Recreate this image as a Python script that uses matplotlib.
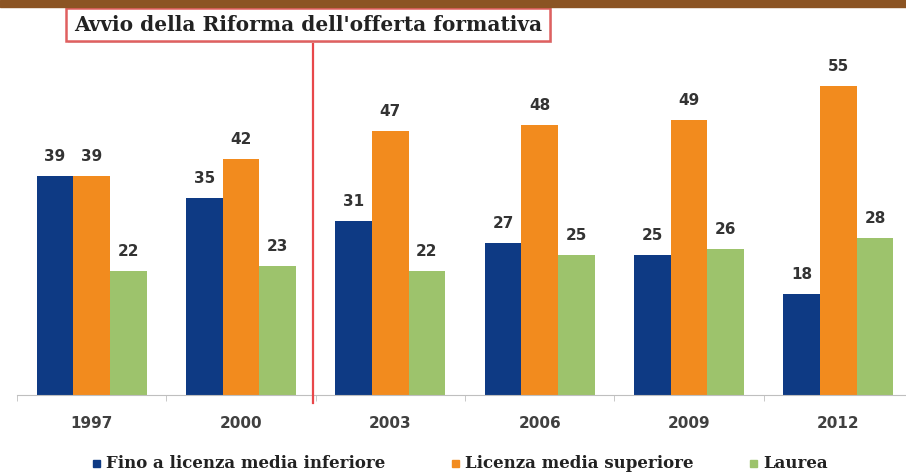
import matplotlib.pyplot as plt
import numpy as np
from matplotlib.patches import Rectangle
from matplotlib.lines import Line2D

anni = ['1997', '2000', '2003', '2006', '2009', '2012']
fino_media_inferiore = [39, 35, 31, 27, 25, 18]
media_superiore = [39, 42, 47, 48, 49, 55]
laurea = [22, 23, 22, 25, 26, 28]

serie = ['Fino a licenza media inferiore', 'Licenza media superiore', 'Laurea']
colori = ['#0E3A84', '#F28B1E', '#9DC36C']

W, H = 906, 473
fig = plt.figure(figsize=(W / 100, H / 100), dpi=100)
ax = fig.add_axes([17 / W, (H - 395) / H, 1 - 17 / W, 337 / H])

x = np.arange(len(anni))
w = 0.245
for i, (vals, col) in enumerate(zip([fino_media_inferiore, media_superiore, laurea], colori)):
    pos = x + (i - 1) * w
    ax.bar(pos, vals, width=w, color=col, linewidth=0)
    for p, v in zip(pos, vals):
        ax.annotate(str(v), (p, v), xytext=(0, 14), textcoords='offset points',
                    ha='center', va='center', fontsize=11, fontweight='bold', color='#333333')

ax.set_xlim(-0.5, 5.453)
ax.set_ylim(0, 60)
for s in ['top', 'right', 'left']:
    ax.spines[s].set_visible(False)
ax.spines['bottom'].set_color('#BFBFBF')
ax.set_yticks([])
ax.set_xticks(x)
ax.set_xticklabels(anni, fontsize=11, fontweight='bold', color='#404040')
ax.set_xticks(np.append(x - 0.5, 5.5)[:-1], minor=True)
ax.tick_params(axis='x', which='major', length=0, pad=15)
ax.tick_params(axis='x', which='minor', length=4, color='#BFBFBF')

# banda marrone in alto
fig.add_artist(Rectangle((0, 1 - 7 / H), 1, 7 / H, transform=fig.transFigure,
                         color='#8B5423', zorder=5))

# riquadro e linea della riforma
fig.add_artist(Line2D([313 / W, 313 / W], [1 - 41 / H, 1 - 403 / H],
                      transform=fig.transFigure, color='#E8474A', lw=1.6))
fig.add_artist(Rectangle((68 / W, 1 - 43 / H), 484 / W, 33 / H, transform=fig.transFigure,
                         facecolor='#DDDDDD', edgecolor='none', zorder=3))
fig.add_artist(Rectangle((66 / W, 1 - 41 / H), 484 / W, 33 / H, transform=fig.transFigure,
                         facecolor='white', edgecolor='#E06060', lw=1.8, zorder=4))
fig.text(308 / W, 1 - 25 / H, "Avvio della Riforma dell'offerta formativa",
         ha='center', va='center', fontsize=14.5, fontweight='bold',
         family='DejaVu Serif', color='#222222', zorder=6)

# legenda
leg_x = [93, 452, 750]
for lx, nome, col in zip(leg_x, serie, colori):
    fig.add_artist(Rectangle((lx / W, 1 - 467 / H), 7 / W, 7 / H,
                             transform=fig.transFigure, color=col))
    fig.text((lx + 13) / W, 1 - 463 / H, nome, ha='left', va='center', fontsize=12,
             fontweight='bold', family='DejaVu Serif', color='#222222')

fig.savefig('out.png', dpi=100)
